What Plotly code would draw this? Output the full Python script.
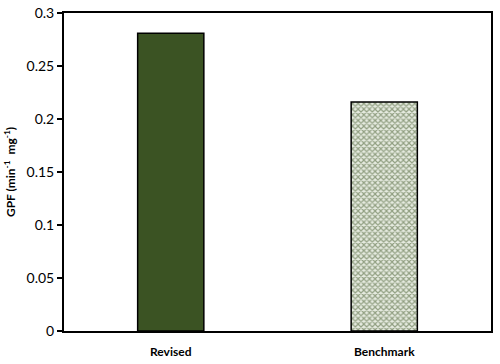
import plotly.graph_objects as go

categories = ["Revised", "Benchmark"]
values = [0.281, 0.216]

fig = go.Figure()
fig.add_trace(go.Bar(
    x=[categories[0]], y=[values[0]], width=0.31,
    marker=dict(color="#3b5323", line=dict(color="black", width=1.5)),
    showlegend=False,
))
fig.add_trace(go.Bar(
    x=[categories[1]], y=[values[1]], width=0.31,
    marker=dict(color="#e6ebe0", line=dict(color="black", width=1.5),
                pattern=dict(shape="x", fgcolor="#3b5323", bgcolor="#e6ebe0",
                             size=4, solidity=0.5)),
    showlegend=False,
))
fig.update_layout(
    width=500, height=364,
    margin=dict(l=64, r=9, t=13, b=33),
    paper_bgcolor="white", plot_bgcolor="white",
    font=dict(family="Lato, Open Sans, sans-serif", color="black"),
    barmode="overlay",
)
fig.update_xaxes(
    categoryorder="array", categoryarray=categories,
    showline=True, linecolor="black", linewidth=2, mirror=True,
    ticks="", ticklabelstandoff=9, automargin=False,
    tickfont=dict(size=12, family="Lato, sans-serif", weight="bold"),
    showgrid=False,
)
fig.update_yaxes(
    range=[0, 0.3], dtick=0.05, tickformat="~g",
    showline=True, linecolor="black", linewidth=2, mirror=True,
    ticks="outside", ticklen=5, tickwidth=1.5, tickcolor="black",
    tickfont=dict(size=14), automargin=False,
    showgrid=False, zeroline=False,
    title=dict(text="<b>GPF (min<sup>-1</sup>  mg<sup>-1</sup>)</b>", font=dict(size=12), standoff=8),
)
fig.write_html("out.html")
